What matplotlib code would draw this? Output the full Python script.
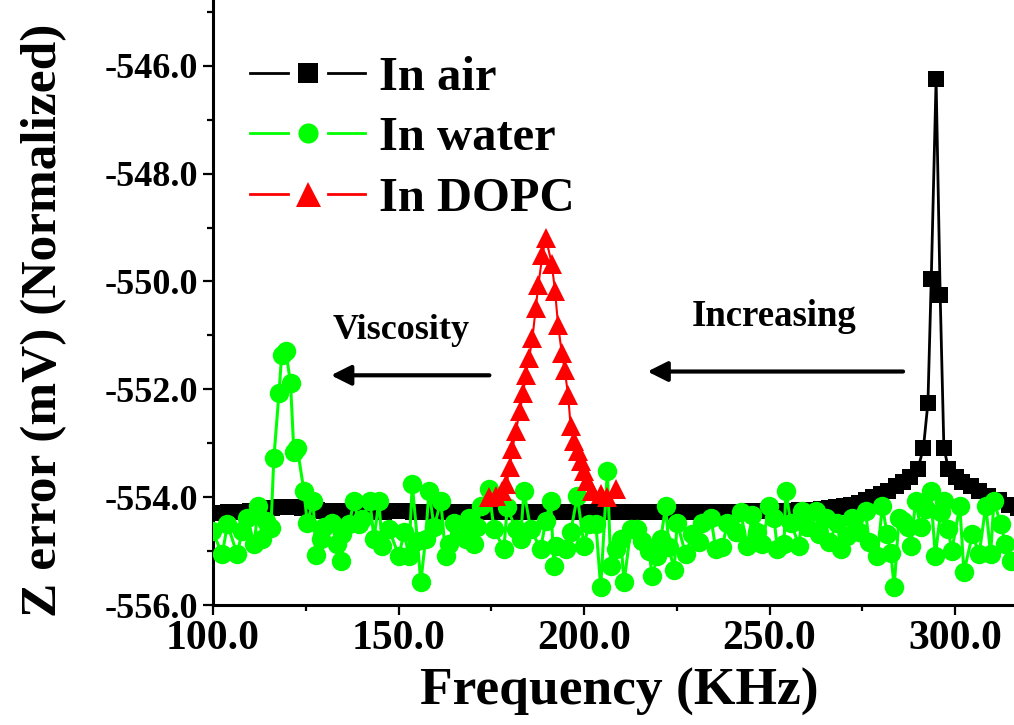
import matplotlib
matplotlib.use("Agg")
import matplotlib.pyplot as plt
from matplotlib.legend_handler import HandlerBase
from matplotlib.lines import Line2D
from matplotlib.ticker import MultipleLocator, FormatStrFormatter

plt.rcParams['font.family'] = ['Liberation Serif', 'DejaVu Serif']
plt.rcParams['font.weight'] = 'bold'

# ---- In air: resonance sweep (frequency in KHz, Z error in mV) ----
air_freq = [100, 102, 104, 106, 108, 110, 112, 114, 116, 118, 120, 122, 124, 126, 128,
            130, 132, 134, 136, 138, 140, 142, 144, 146, 148, 150, 152, 154, 156, 158,
            160, 162, 164, 166, 168, 170, 172, 174, 176, 178, 180, 182, 184, 186, 188,
            190, 192, 194, 196, 198, 200, 202, 204, 206, 208, 210, 212, 214, 216, 218,
            220, 222, 224, 226, 228, 230, 232, 234, 236, 238, 240, 242, 244, 246, 248,
            250, 252, 254, 256, 258, 260, 262, 264, 266, 268, 270, 272, 274, 276, 278,
            280, 282, 284, 286, 288, 290, 291.5, 292.7, 293.6, 294.9, 296.0, 297.0,
            298.2, 300.2, 302.0, 304.2, 306.5, 309.0, 311.8, 314.5, 317.0]
air_z = [-554.29, -554.29, -554.28, -554.28, -554.27, -554.26, -554.24, -554.22, -554.20, -554.19,
         -554.19, -554.19, -554.20, -554.22, -554.24, -554.25, -554.26, -554.26, -554.27, -554.27,
         -554.27, -554.27, -554.27, -554.27, -554.26, -554.26, -554.26, -554.27, -554.27, -554.27,
         -554.28, -554.28, -554.28, -554.27, -554.27, -554.27, -554.27, -554.27, -554.27, -554.27,
         -554.27, -554.27, -554.27, -554.27, -554.27, -554.27, -554.27, -554.27, -554.27, -554.27,
         -554.27, -554.27, -554.27, -554.27, -554.27, -554.27, -554.27, -554.27, -554.27, -554.27,
         -554.27, -554.27, -554.27, -554.27, -554.27, -554.27, -554.27, -554.27, -554.27, -554.27,
         -554.27, -554.27, -554.26, -554.26, -554.26, -554.26, -554.26, -554.25, -554.25, -554.24,
         -554.24, -554.23, -554.22, -554.21, -554.19, -554.17, -554.14, -554.10, -554.05, -554.00,
         -553.94, -553.88, -553.80, -553.72, -553.62, -553.48, -553.08, -552.25, -549.95, -546.25,
         -550.25, -553.08, -553.47, -553.62, -553.71, -553.80, -553.88, -553.97, -554.06, -554.14,
         -554.20]

# ---- In water ----
water_freq = [99.8, 102.5, 103.9, 106.5, 107.9, 109.2, 111.1, 112.2, 113.3, 114.4,
              115.6, 116.4, 117.8, 118.5, 119.6, 120.9, 121.8, 122.7, 124.5, 125.4,
              127.0, 127.7, 129.0, 129.9, 132.2, 133.5, 134.4, 134.9, 136.7, 138.0,
              139.4, 140.2, 142.3, 143.4, 144.7, 145.6, 147.4, 150.1, 151.5, 152.8,
              153.7, 155.1, 156.0, 157.3, 158.2, 159.6, 161.4, 162.7, 163.6, 165.0,
              166.3, 168.1, 169.0, 170.4, 171.2, 172.2, 174.4, 175.7, 178.4, 179.3,
              181.6, 182.9, 183.8, 185.6, 188.3, 189.7, 191.0, 191.9, 192.4, 195.1,
              196.4, 198.2, 200.0, 201.3, 203.2, 204.5, 206.3, 207.2, 208.5, 209.9,
              210.8, 212.6, 214.4, 215.7, 217.5, 218.4, 219.8, 220.7, 222.0, 222.9,
              224.3, 225.1, 227.4, 229.2, 231.0, 231.9, 234.2, 235.5, 237.3, 238.6,
              240.9, 242.2, 244.0, 245.4, 246.7, 248.1, 249.9, 251.2, 252.1, 253.9,
              254.4, 255.7, 258.0, 258.8, 260.2, 262.4, 263.3, 265.1, 266.0, 268.3,
              269.2, 271.0, 272.3, 274.1, 275.9, 276.8, 279.1, 280.4, 281.7, 282.7,
              283.6, 284.9, 286.0, 287.2, 288.1, 289.4, 290.7, 292.1, 293.4, 294.7,
              296.1, 296.9, 298.2, 299.1, 301.3, 302.4, 304.7, 306.5, 308.3, 309.6,
              310.5, 312.3, 313.6, 315.0]
water_z = [-554.62, -555.06, -554.50, -555.06, -554.62, -554.38, -554.87, -554.17, -554.78, -554.44,
           -554.58, -553.28, -552.06, -551.37, -551.29, -551.88, -553.17, -553.08, -553.88, -554.47,
           -554.08, -555.07, -554.78, -554.56, -554.47, -554.87, -555.18, -554.69, -554.50, -554.07,
           -554.50, -554.41, -554.07, -554.78, -554.07, -554.90, -554.59, -555.09, -554.65, -555.09,
           -553.76, -554.81, -555.58, -554.78, -553.88, -554.56, -554.07, -555.09, -554.87, -554.47,
           -554.62, -554.78, -554.38, -554.87, -554.56, -554.16, -553.85, -554.59, -554.96, -554.19,
           -554.59, -554.78, -553.88, -554.59, -554.96, -554.44, -554.07, -555.27, -554.90, -554.96,
           -554.65, -553.98, -554.90, -554.50, -554.50, -555.67, -553.51, -555.27, -554.96, -554.78,
           -555.58, -554.59, -554.59, -554.81, -555.00, -555.46, -555.09, -554.78, -554.16, -554.93,
           -555.36, -554.47, -555.06, -554.69, -554.84, -554.47, -554.38, -554.96, -554.93, -554.47,
           -554.65, -554.28, -554.90, -554.34, -554.65, -554.87, -554.16, -554.38, -554.96, -554.87,
           -553.88, -554.47, -554.90, -554.25, -554.56, -554.25, -554.69, -554.38, -554.84, -554.47,
           -554.96, -554.72, -554.38, -554.65, -554.25, -554.84, -555.09, -554.16, -554.69, -555.03,
           -555.67, -554.38, -554.45, -554.56, -554.90, -554.07, -554.56, -554.22, -553.88, -555.09,
           -554.28, -554.07, -554.59, -555.00, -554.16, -555.39, -554.69, -555.06, -554.16, -555.06,
           -554.07, -554.50, -554.87, -555.18]

# ---- In DOPC ----
dopc_freq = [174.4, 176.2, 178.0, 179.1, 180.0, 180.7, 181.6, 182.7, 183.6, 184.3,
             185.2, 186.1, 187.0, 187.7, 188.8, 189.7, 191.3, 192.2, 193.0, 194.0,
             194.8, 195.7, 196.4, 197.3, 198.5, 199.1, 200.0, 200.9, 202.2, 204.5,
             206.3, 208.5]
dopc_z = [-554.00, -553.97, -553.89, -553.76, -553.44, -553.10, -552.78, -552.41, -552.07, -551.73,
          -551.42, -551.05, -550.49, -550.06, -549.51, -549.19, -549.67, -550.18, -550.80, -551.32,
          -551.64, -552.10, -552.68, -552.96, -553.14, -553.33, -553.51, -553.70, -553.88, -553.94,
          -553.99, -553.84]

GREEN = '#00FF00'
RED = '#FF0000'


class GapLineHandler(HandlerBase):
    """Legend key drawn as: line segment, gap, symbol, gap, line segment."""

    def __init__(self, marker_size, **kw):
        super().__init__(**kw)
        self.marker_size = marker_size

    def create_artists(self, legend, orig_handle, xdescent, ydescent,
                       width, height, fontsize, trans):
        y = height / 2.0 - ydescent
        x0 = -xdescent
        gap = width * 0.175
        col = orig_handle.get_color()
        lw = 2.0
        left = Line2D([x0, x0 + width / 2 - gap], [y, y], color=col, lw=lw)
        right = Line2D([x0 + width / 2 + gap, x0 + width], [y, y], color=col, lw=lw)
        mk = Line2D([x0 + width / 2], [y], linestyle='none',
                    marker=orig_handle.get_marker(),
                    markersize=self.marker_size,
                    markerfacecolor=col, markeredgecolor=col, markeredgewidth=0)
        for a in (left, right, mk):
            a.set_transform(trans)
        return [left, right, mk]


fig = plt.figure(figsize=(10.14, 7.25), dpi=100)
ax = fig.add_axes([213 / 1014, 1 - 605 / 725, 1 - 213 / 1014, 605 / 725])

h_air, = ax.plot(air_freq, air_z, color='black', lw=2.0, marker='s', markersize=11.3,
                 markeredgewidth=0, label='In air', zorder=3)
h_water, = ax.plot(water_freq, water_z, color=GREEN, lw=2.2, marker='o', markersize=14,
                   markeredgewidth=0, label='In water', zorder=4)
h_dopc, = ax.plot(dopc_freq, dopc_z, color=RED, lw=1.5, marker='^', markersize=14.5,
                  markeredgewidth=0, label='In DOPC', zorder=5)

ax.set_xlim(100, 315.9)
ax.set_ylim(-556.0, -544.78)

ax.xaxis.set_major_locator(MultipleLocator(50))
ax.xaxis.set_minor_locator(MultipleLocator(25))
ax.yaxis.set_major_locator(MultipleLocator(2))
ax.yaxis.set_minor_locator(MultipleLocator(1))
ax.xaxis.set_major_formatter(FormatStrFormatter('%.1f'))
ax.yaxis.set_major_formatter(FormatStrFormatter('%.1f'))

for side in ('top', 'right'):
    ax.spines[side].set_visible(False)
for side in ('left', 'bottom'):
    ax.spines[side].set_linewidth(2.2)

ax.tick_params(axis='both', which='major', direction='out', length=7, width=1.6, pad=4)
ax.tick_params(axis='both', which='minor', direction='out', length=4.5, width=1.6)
ax.tick_params(axis='x', which='major', labelsize=30)
ax.tick_params(axis='y', which='major', labelsize=26)
for lab in ax.get_xticklabels() + ax.get_yticklabels():
    lab.set_fontweight('bold')

ax.set_xlabel('Frequency (KHz)', fontsize=38.5, fontweight='bold')
ax.set_ylabel('Z error (mV) (Normalized)', fontsize=37, fontweight='bold')
ax.xaxis.set_label_coords(0.507, -0.104)
ax.yaxis.set_label_coords(-0.182, 0.471)

leg = ax.legend(handles=[h_air, h_water, h_dopc], loc='upper left',
                bbox_to_anchor=(0.0225, 0.939), frameon=False,
                prop={'family': 'Liberation Serif', 'weight': 'bold', 'size': 35},
                handlelength=2.35, handletextpad=0.3, labelspacing=0.33,
                borderaxespad=0,
                handler_map={h_air: GapLineHandler(13.7),
                             h_water: GapLineHandler(14.5),
                             h_dopc: GapLineHandler(18.0)})

# shift annotations
ax.annotate('', xy=(131.8, -551.74), xytext=(174.5, -551.74),
            arrowprops=dict(arrowstyle='-|>', lw=3, color='black', mutation_scale=30,
                            shrinkA=0, shrinkB=0))
ax.annotate('', xy=(217.1, -551.67), xytext=(286.0, -551.67),
            arrowprops=dict(arrowstyle='-|>', lw=3, color='black', mutation_scale=30,
                            shrinkA=0, shrinkB=0))
ax.text(150.8, -551.07, 'Viscosity', ha='center', va='baseline', fontsize=26,
        fontweight='bold')
ax.text(251.2, -550.83, 'Increasing', ha='center', va='baseline', fontsize=26.5,
        fontweight='bold')

fig.savefig('out.png', dpi=100)
